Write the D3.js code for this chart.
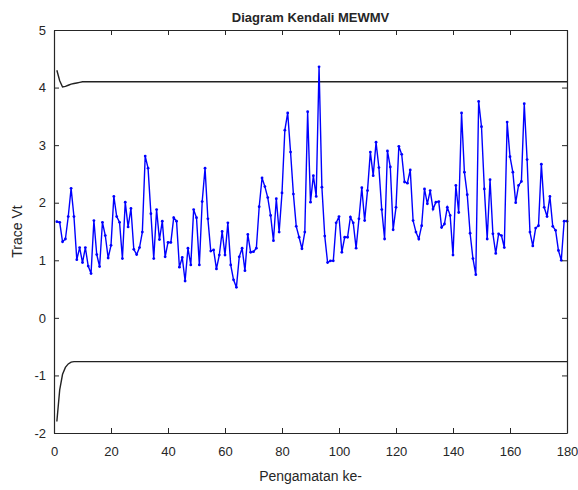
<!DOCTYPE html>
<meta charset="utf-8">
<head>
    <title>Diagram Kendali MEWMV</title>
    <script src="https://cdn.jsdelivr.net/npm/d3@7"></script>
    <style>
        body { margin: 0; background: #fff; }
        text { font-family: "Liberation Sans", Arial, sans-serif; fill: #262626; }
    </style>
</head>
<body>
<div id="chart"></div>
<script>
    // observations 1..180, trace of Vt
    var traceVt = [
        1.67, 1.66, 1.32, 1.37, 1.76, 2.25, 1.76, 1.01, 1.22, 0.96,
        1.22, 0.90, 0.77, 1.69, 1.10, 0.89, 1.66, 1.43, 1.04, 1.26,
        2.11, 1.76, 1.66, 1.03, 2.01, 1.58, 1.90, 1.19, 1.10, 1.22,
        1.49, 2.81, 2.60, 1.81, 1.03, 1.88, 1.36, 1.68, 1.06, 1.31,
        1.31, 1.74, 1.68, 0.88, 1.05, 0.64, 1.21, 0.92, 1.88, 1.74,
        0.92, 2.02, 2.60, 1.72, 1.16, 1.18, 0.85, 1.09, 1.50, 1.09,
        1.65, 0.92, 0.66, 0.53, 1.06, 1.21, 0.82, 1.45, 1.14, 1.15,
        1.21, 1.93, 2.43, 2.28, 2.09, 1.78, 1.34, 2.07, 1.49, 2.17,
        3.26, 3.56, 2.88, 2.15, 1.59, 1.40, 1.20, 1.49, 3.58, 2.01,
        2.47, 2.11, 4.36, 2.27, 1.42, 0.96, 0.99, 0.99, 1.65, 1.76,
        1.14, 1.40, 1.40, 1.75, 1.65, 1.21, 1.72, 2.26, 1.69, 2.21,
        2.88, 2.47, 3.05, 2.61, 1.88, 1.37, 2.90, 2.62, 1.53, 1.92,
        2.98, 2.84, 2.36, 2.34, 2.57, 1.69, 1.49, 1.37, 1.60, 2.24,
        1.98, 2.21, 1.89, 2.01, 2.02, 1.57, 1.63, 1.92, 1.78, 1.09,
        2.30, 1.83, 3.56, 2.53, 2.14, 1.47, 1.03, 0.75, 3.76, 3.32,
        2.24, 1.37, 2.40, 1.46, 1.12, 1.46, 1.43, 1.22, 3.40, 2.80,
        2.53, 2.00, 2.30, 2.37, 3.72, 2.75, 1.49, 1.25, 1.56, 1.60,
        2.67, 1.92, 1.76, 2.11, 1.59, 1.52, 1.17, 1.00, 1.68, 1.68
    ];

    // control limits: first few observations differ, then settle
    var uclStart = [4.30, 4.12, 4.01, 4.02, 4.04, 4.06, 4.07, 4.08, 4.09];
    var uclSteady = 4.10;
    var lclStart = [-1.80, -1.25, -0.98, -0.86, -0.80, -0.77];
    var lclSteady = -0.76;

    var xTicks = [0, 20, 40, 60, 80, 100, 120, 140, 160, 180];
    var yTicks = [-2, -1, 0, 1, 2, 3, 4, 5];

    var width = 578, height = 490;
    var margin = { top: 30, right: 11, bottom: 57, left: 54 };

    var svg = d3.select("#chart").append("svg")
        .attr("width", width)
        .attr("height", height);

    var x = d3.scaleLinear().domain([0, 180]).range([margin.left, width - margin.right]);
    var y = d3.scaleLinear().domain([-2, 5]).range([height - margin.bottom, margin.top]);

    var obs = traceVt.map(function (v, i) { return { n: i + 1, v: v }; });
    var ucl = obs.map(function (d, i) { return { n: d.n, v: i < uclStart.length ? uclStart[i] : uclSteady }; });
    var lcl = obs.map(function (d, i) { return { n: d.n, v: i < lclStart.length ? lclStart[i] : lclSteady }; });

    var line = d3.line()
        .x(function (d) { return x(d.n); })
        .y(function (d) { return y(d.v); });

    // limits
    [ucl, lcl].forEach(function (lim) {
        svg.append("path")
            .datum(lim)
            .attr("fill", "none")
            .attr("stroke", "#222")
            .attr("stroke-width", 1.4)
            .attr("d", line);
    });

    // trace series
    svg.append("path")
        .datum(obs)
        .attr("fill", "none")
        .attr("stroke", "#0000ff")
        .attr("stroke-width", 1.4)
        .attr("d", line);

    svg.selectAll(".dot")
        .data(obs)
        .enter()
        .append("circle")
        .attr("class", "dot")
        .attr("cx", function (d) { return x(d.n); })
        .attr("cy", function (d) { return y(d.v); })
        .attr("r", 1.4)
        .attr("fill", "#0000ff");

    // axes, ticks pointing inward like matlab
    var bottom = height - margin.bottom, right = width - margin.right;
    var fmt = function (d) { return String(d); }; // plain hyphen minus

    svg.append("g")
        .attr("transform", "translate(0," + bottom + ")")
        .call(d3.axisBottom(x).tickValues(xTicks).tickFormat(fmt).tickSizeInner(-5).tickSizeOuter(0).tickPadding(14))
        .call(styleAxis);
    svg.append("g")
        .attr("transform", "translate(0," + margin.top + ")")
        .call(d3.axisTop(x).tickValues(xTicks).tickSizeInner(-5).tickSizeOuter(0).tickFormat(""))
        .call(styleAxis);
    svg.append("g")
        .attr("transform", "translate(" + margin.left + ",0)")
        .call(d3.axisLeft(y).tickValues(yTicks).tickFormat(fmt).tickSizeInner(-5).tickSizeOuter(0).tickPadding(8))
        .call(styleAxis);
    svg.append("g")
        .attr("transform", "translate(" + right + ",0)")
        .call(d3.axisRight(y).tickValues(yTicks).tickSizeInner(-5).tickSizeOuter(0).tickFormat(""))
        .call(styleAxis);

    function styleAxis(g) {
        g.select(".domain").attr("stroke", "#262626").attr("stroke-width", 1.2);
        g.selectAll(".tick line").attr("stroke", "#262626");
        g.selectAll(".tick text")
            .style("font-family", "'Liberation Sans', Arial, sans-serif")
            .style("font-size", "13px")
            .attr("fill", "#262626");
    }

    // title and labels
    svg.append("text")
        .attr("x", (margin.left + right) / 2)
        .attr("y", 22)
        .attr("text-anchor", "middle")
        .style("font-size", "13px")
        .style("font-weight", "bold")
        .text("Diagram Kendali MEWMV");

    svg.append("text")
        .attr("x", (margin.left + right) / 2)
        .attr("y", 481)
        .attr("text-anchor", "middle")
        .style("font-size", "14px")
        .text("Pengamatan ke-");

    svg.append("text")
        .attr("transform", "translate(22," + ((margin.top + bottom) / 2) + ") rotate(-90)")
        .attr("text-anchor", "middle")
        .style("font-size", "14px")
        .text("Trace Vt");
</script>
</body>
</html>
